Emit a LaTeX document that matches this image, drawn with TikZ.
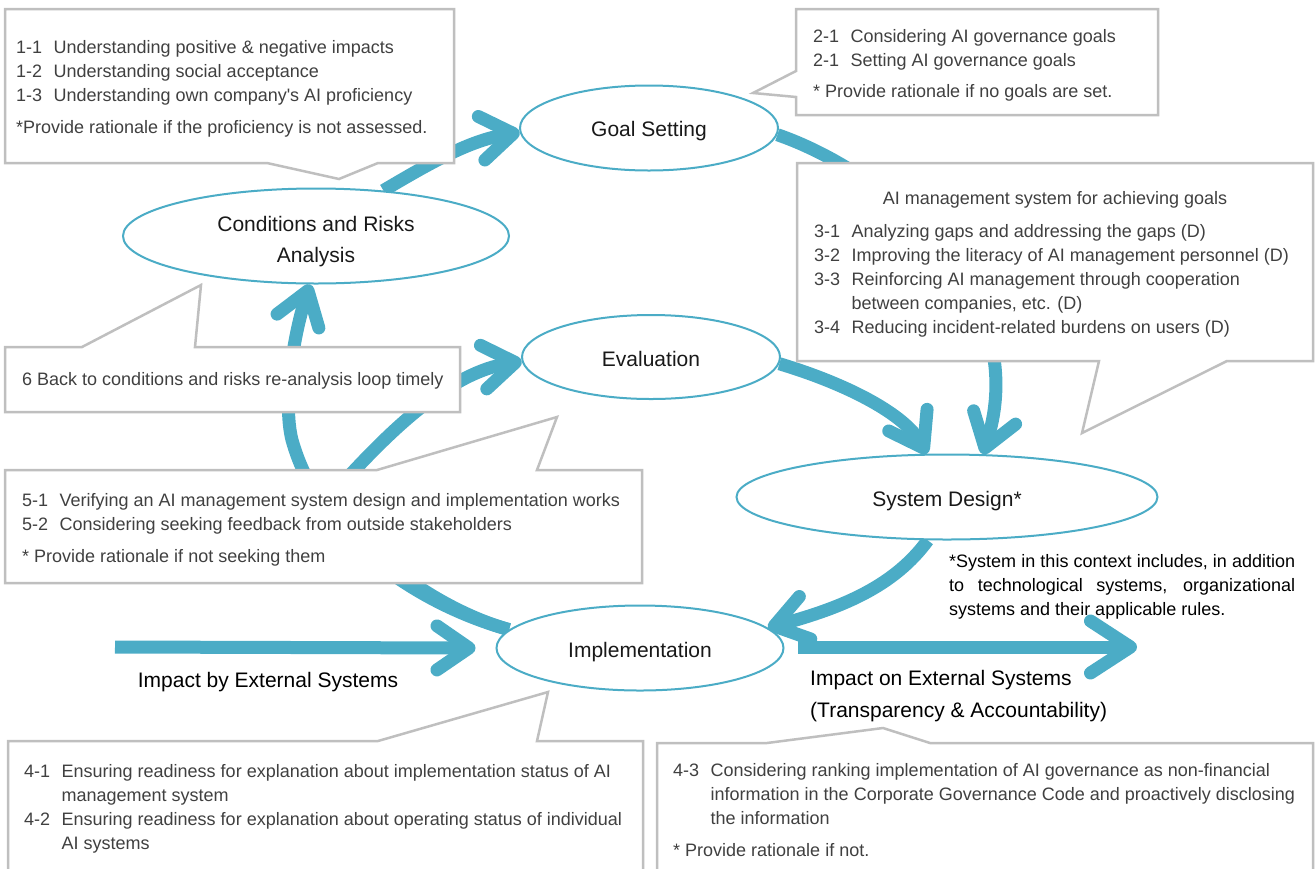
\documentclass[tikz,border=0pt]{standalone}
\usepackage{fontspec}
\setmainfont{Liberation Sans}
\usetikzlibrary{shapes.geometric, arrows.meta}
\definecolor{flowteal}{HTML}{4BACC6}
\definecolor{boxgray}{HTML}{BFBFBF}
\definecolor{notegray}{HTML}{404040}
\newcommand{\itemno}[1]{\makebox[37.5pt][l]{#1}}
\newcommand{\stagetext}[2][-3pt]{\raisebox{#1}[\height][\depth]{\begin{tabular}{@{}c@{}}#2\end{tabular}}}
\pgfdeclarelayer{background}
\pgfsetlayers{background,main}

\begin{document}
\begin{tikzpicture}[x=1pt, y=-1pt,
    stage/.style={ellipse, draw=flowteal, line width=2pt, fill=white, inner sep=0pt,
        text=black!90, font=\fontsize{21}{31}\selectfont},
    flow/.style={draw=flowteal, line width=13pt,
        -{Straight Barb[length=32pt, width=44pt, line width=0pt 1, round]}},
    callout/.style={draw=boxgray, line width=2.5pt, fill=white},
    note/.style={anchor=north west, inner sep=0pt, align=left, text=notegray,
        font=\fontsize{18}{24}\selectfont}]

    \useasboundingbox (0,0) rectangle (1316,868);

    % Stages of the cycle
    \node[stage, minimum width=258pt, minimum height=85pt] (gs) at (649,128) {\stagetext[-2pt]{Goal Setting}};
    \node[stage, minimum width=386pt, minimum height=95pt] (cra) at (316,236) {\stagetext[-4.5pt]{Conditions and Risks\\Analysis}};
    \node[stage, minimum width=258pt, minimum height=84pt] (ev) at (651,357) {\stagetext{Evaluation}};
    \node[stage, minimum width=421pt, minimum height=85pt] (sd) at (947,497) {\stagetext{System Design*}};
    \node[stage, minimum width=287pt, minimum height=85pt] (impl) at (640,648) {\stagetext{Implementation}};

    \coordinate (inL) at (115,647);
    \coordinate (outR) at (1137,647);

    % Flows
    \begin{pgfonlayer}{background}
        \draw[flow] (cra.34) .. controls (430,163) and (470,140) .. (gs.182);
        \draw[flow] (gs.-3) .. controls (880,170) and (1035,290) .. (sd.50);
        \draw[flow] (ev.-3) .. controls (850,385) and (905,415) .. (sd.115);
        \draw[flow] (sd.246) .. controls (895,585) and (845,607) .. (impl.9);
        \draw[flow] (impl.172) .. controls (420,605) and (320,540) .. (292,440)
            .. controls (282,400) and (295,330) .. (cra.263);
        \draw[flow] (impl.172) .. controls (420,605) and (310,515) .. (350,475)
            .. controls (390,432) and (450,372) .. (ev.182);
        \draw[flow] (inL) -- ([xshift=-20pt]impl.west);
        \draw[flow, -{Straight Barb[length=40pt, width=52pt, line width=0pt 1, round]}]
            ([xshift=13pt,yshift=1pt]impl.east) -- (outR);
    \end{pgfonlayer}

    % Callout boxes
    \draw[callout] (5,9) -- (454,9) -- (454,163) -- (378,163) -- (339,179) -- (267,163) -- (5,163) -- cycle;
    \draw[callout] (796,9) -- (1158,9) -- (1158,115) -- (796,115) -- (796,97) -- (753,93) -- (796,71) -- cycle;
    \draw[callout] (797,163) -- (1313,163) -- (1313,361) -- (1227,361) -- (1082,433) -- (1099,361) -- (797,361) -- cycle;
    \draw[callout] (5,347) -- (82,347) -- (201,285) -- (195,347) -- (460,347) -- (460,412) -- (5,412) -- cycle;
    \draw[callout] (5,470) -- (377,470) -- (557,417) -- (537,470) -- (642,470) -- (642,583) -- (5,583) -- cycle;
    \draw[callout] (8,741) -- (378,741) -- (548,692) -- (537,741) -- (643,741) -- (643,880) -- (8,880) -- cycle;
    \draw[callout] (657,743) -- (767,743) -- (883,728) -- (930,743) -- (1313,743) -- (1313,880) -- (657,880) -- cycle;

    % Callout texts
    \node[note] (n1) at (16,40.5) {\itemno{1-1}Understanding positive \& negative impacts\\
        \itemno{1-2}Understanding social acceptance\\
        \itemno{1-3}Understanding own company\textquotesingle s AI proficiency\\[8pt]
        *Provide rationale if the proficiency is not assessed.};
    \node[note] (n2) at (813,29.5) {\itemno{2-1}Considering AI governance goals\\
        \itemno{2-1}Setting AI governance goals\\[7pt]
        * Provide rationale if no goals are set.};
    \node[note, anchor=center] (n3t) at (1055,200) {AI management system for achieving goals};
    \node[note] (n3) at (814,224.5) {\itemno{3-1}Analyzing gaps and addressing the gaps (D)\\
        \itemno{3-2}Improving the literacy of AI management personnel (D)\\
        \itemno{3-3}Reinforcing AI management through cooperation\\
        \itemno{}between companies, etc. (D)\\
        \itemno{3-4}Reducing incident-related burdens on users (D)};
    \node[note, anchor=west] (n6) at (22,381) {6 Back to conditions and risks re-analysis loop timely};
    \node[note] (n5) at (22,493.5) {\itemno{5-1}Verifying an AI management system design and implementation works\\
        \itemno{5-2}Considering seeking feedback from outside stakeholders\\[8pt]
        * Provide rationale if not seeking them};
    \node[note] (n4) at (24,764.5) {\itemno{4-1}Ensuring readiness for explanation about implementation status of AI\\
        \itemno{}management system\\
        \itemno{4-2}Ensuring readiness for explanation about operating status of individual\\
        \itemno{}AI systems};
    \node[note] (n43) at (673,763.5) {\itemno{4-3}Considering ranking implementation of AI governance as non-financial\\
        \itemno{}information in the Corporate Governance Code and proactively disclosing\\
        \itemno{}the information\\[8pt]
        * Provide rationale if not.};

    % Free labels
    \node[note, text=black] (sdnote) at (949,554.5) {\makebox[346pt][s]{*System in this context includes, in addition}\\
        \makebox[346pt][s]{to technological systems, organizational}\\
        systems and their applicable rules.};
    \node[inner sep=0pt, font=\fontsize{21}{32}\selectfont] (inlbl) at (268,682) {Impact by External Systems};
    \node[anchor=north west, inner sep=0pt, align=left, font=\fontsize{21}{32}\selectfont] (outlbl) at (810,670)
        {Impact on External Systems\\(Transparency \& Accountability)};
\end{tikzpicture}
\end{document}
